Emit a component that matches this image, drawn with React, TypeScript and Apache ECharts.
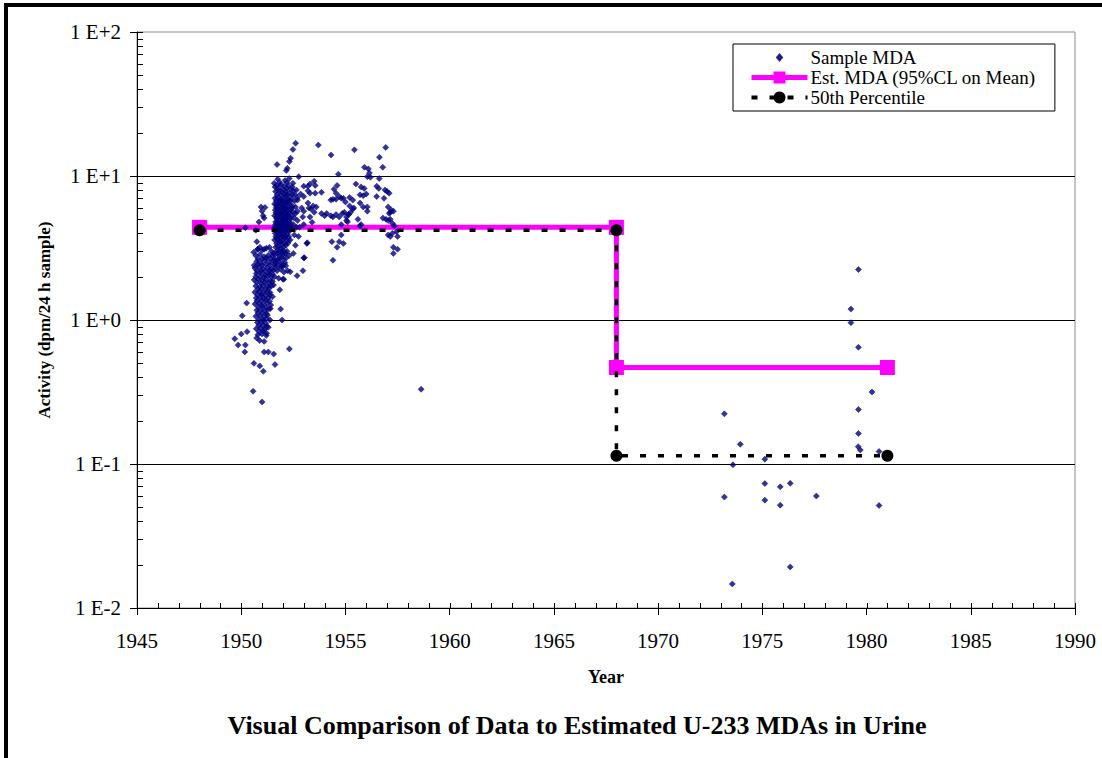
import React, { useEffect, useRef } from "react";
import * as echarts from "echarts";

const FONT = "'Liberation Serif', 'Times New Roman', serif";

const chartTitle = "Visual Comparison of Data to Estimated U-233 MDAs in Urine";
const xAxisName = "Year";
const yAxisName = "Activity (dpm/24 h sample)";
const seriesNames = ["Sample MDA", "Est. MDA (95%CL on Mean)", "50th Percentile"];
const yTickLabels = ["1 E-2", "1 E-1", "1 E+0", "1 E+1", "1 E+2"];
const xMin = 1945;
const xMax = 1990;
const xInterval = 5;
const yMin = 0.01;
const yMax = 100;

// Est. MDA (95% CL on mean) step line
const estMDA: [number, number][] = [
  [1948, 4.4],
  [1968, 4.4],
  [1968, 0.468],
  [1981, 0.468],
];

// 50th percentile step line
const percentile50: [number, number][] = [
  [1948, 4.2],
  [1968, 4.2],
  [1968, 0.114],
  [1981, 0.114],
];

// sample MDAs: sparse early / low points
const sampleEarly: [number, number][] = [
  [1949.69, 0.74], [1949.85, 0.67], [1950.0, 0.8], [1950.05, 1.07], [1950.26, 1.31], [1950.28, 0.83],
  [1950.2, 0.67], [1950.17, 0.6], [1950.61, 0.5], [1950.89, 0.48], [1951.06, 0.44], [1951.62, 0.49],
  [1951.1, 0.6], [1951.3, 0.6], [1951.56, 0.58], [1952.31, 0.63], [1950.57, 0.32], [1951.0, 0.27],
  [1950.2, 4.37], [1950.7, 4.2], [1950.75, 3.5], [1950.78, 3.1], [1950.95, 6.1], [1951.0, 5.7],
  [1951.05, 5.3], [1951.1, 5.1], [1950.85, 4.8], [1951.14, 6.05], [1951.96, 1.0], [1951.89, 1.19],
  [1951.85, 1.62], [1951.93, 2.37], [1952.04, 1.92], [1952.68, 2.03], [1952.35, 2.16], [1952.96, 2.2],
  [1958.63, 0.33],
];

// sample MDAs: dense 1950.6-1951.6 column
const sampleColumn1951: [number, number][] = [
  [1950.8, 3.1], [1951.0, 3.05], [1951.2, 3.15], [1951.45, 3.0],
  [1950.7, 2.8], [1950.9, 2.85], [1951.1, 2.75], [1951.3, 2.82], [1951.5, 2.78],
  [1950.75, 2.55], [1950.95, 2.5], [1951.15, 2.6], [1951.35, 2.52], [1951.55, 2.58],
  [1950.65, 2.3], [1950.85, 2.33], [1951.05, 2.27], [1951.25, 2.31], [1951.45, 2.25], [1951.62, 2.35],
  [1950.72, 2.1], [1950.92, 2.12], [1951.12, 2.06], [1951.32, 2.1], [1951.5, 2.08],
  [1950.62, 1.9], [1950.82, 1.92], [1951.0, 1.88], [1951.2, 1.91], [1951.4, 1.87],
  [1950.7, 1.72], [1950.9, 1.7], [1951.08, 1.74], [1951.28, 1.71], [1951.45, 1.73],
  [1950.65, 1.56], [1950.85, 1.58], [1951.02, 1.54], [1951.22, 1.57], [1951.38, 1.55],
  [1950.72, 1.42], [1950.92, 1.44], [1951.1, 1.41], [1951.3, 1.43],
  [1950.66, 1.29], [1950.86, 1.3], [1951.04, 1.28], [1951.24, 1.31], [1951.42, 1.27],
  [1950.75, 1.17], [1950.95, 1.18], [1951.14, 1.16], [1951.32, 1.19],
  [1950.7, 1.06], [1950.9, 1.07], [1951.08, 1.05], [1951.26, 1.08],
  [1950.78, 0.96], [1950.98, 0.97], [1951.18, 0.95],
  [1950.72, 0.87], [1950.92, 0.88], [1951.12, 0.86], [1951.3, 0.89],
  [1950.8, 0.79], [1951.0, 0.8], [1951.2, 0.78],
  [1950.88, 0.72], [1951.1, 0.71],
  [1950.74, 0.75], [1951.38, 1.0], [1951.22, 0.81], [1951.6, 2.0], [1951.55, 1.75], [1951.5, 1.45],
  [1950.6, 2.95], [1950.9, 3.2], [1951.1, 3.1], [1951.35, 3.2], [1951.55, 2.9],
  [1950.8, 2.65], [1951.0, 2.65], [1951.2, 2.7], [1951.4, 2.68], [1951.6, 2.62],
  [1950.62, 2.4], [1950.8, 2.43], [1951.0, 2.4], [1951.18, 2.44], [1951.38, 2.4], [1951.58, 2.45],
  [1950.75, 2.2], [1950.95, 2.2], [1951.15, 2.18], [1951.35, 2.2], [1951.55, 2.22],
  [1950.7, 2.0], [1950.9, 2.0], [1951.08, 1.98], [1951.28, 2.02], [1951.45, 2.0],
  [1950.75, 1.82], [1950.95, 1.8], [1951.12, 1.83], [1951.32, 1.8], [1951.5, 1.85],
  [1950.8, 1.64], [1950.98, 1.65], [1951.16, 1.63], [1951.34, 1.66],
  [1950.78, 1.49], [1950.98, 1.5], [1951.18, 1.48], [1951.38, 1.5],
  [1950.76, 1.36], [1950.96, 1.36], [1951.16, 1.37], [1951.36, 1.35],
  [1950.82, 1.23], [1951.02, 1.24], [1951.2, 1.22], [1951.4, 1.2],
  [1950.8, 1.12], [1951.0, 1.12], [1951.2, 1.11],
  [1950.84, 1.01], [1951.04, 1.0], [1951.22, 1.02],
  [1950.84, 0.92], [1951.04, 0.92], [1951.22, 0.9],
  [1950.86, 0.83], [1951.06, 0.84],
];

// sample MDAs: dense 1951.6-1952.8 column
const sampleColumn1952: [number, number][] = [
  [1951.75, 9.5], [1952.1, 9.3], [1952.3, 9.6],
  [1951.7, 8.6], [1951.9, 8.7], [1952.05, 8.5], [1952.25, 8.6], [1952.45, 8.4],
  [1951.65, 7.8], [1951.8, 7.9], [1951.95, 7.7], [1952.15, 7.8], [1952.3, 7.6], [1952.5, 7.9],
  [1951.62, 7.0], [1951.75, 7.1], [1951.88, 6.9], [1952.0, 7.0], [1952.12, 7.2], [1952.25, 6.9], [1952.4, 7.0],
  [1951.6, 6.4], [1951.7, 6.3], [1951.82, 6.5], [1951.95, 6.4], [1952.05, 6.3], [1952.18, 6.5], [1952.3, 6.4], [1952.45, 6.2],
  [1951.63, 5.8], [1951.74, 5.9], [1951.86, 5.7], [1951.98, 5.8], [1952.1, 5.9], [1952.22, 5.7], [1952.35, 5.8],
  [1951.6, 5.3], [1951.7, 5.2], [1951.8, 5.4], [1951.92, 5.3], [1952.02, 5.2], [1952.14, 5.35], [1952.26, 5.25], [1952.4, 5.3],
  [1951.65, 4.8], [1951.76, 4.85], [1951.88, 4.75], [1952.0, 4.8], [1952.08, 4.9], [1952.2, 4.75], [1952.32, 4.8],
  [1951.6, 4.4], [1951.7, 4.45], [1951.82, 4.35], [1951.94, 4.4], [1952.05, 4.5], [1952.16, 4.35], [1952.28, 4.4], [1952.42, 4.3],
  [1951.63, 4.0], [1951.74, 4.05], [1951.86, 3.95], [1951.98, 4.0], [1952.1, 4.1], [1952.22, 3.95],
  [1951.6, 3.6], [1951.72, 3.65], [1951.84, 3.55], [1951.96, 3.6], [1952.08, 3.7], [1952.2, 3.55], [1952.35, 3.6],
  [1951.65, 3.2], [1951.78, 3.25], [1951.9, 3.15], [1952.02, 3.2], [1952.15, 3.3],
  [1951.62, 2.85], [1951.75, 2.9], [1951.88, 2.8], [1952.0, 2.85], [1952.12, 2.9], [1952.3, 2.8],
  [1951.68, 2.5], [1951.8, 2.55], [1951.95, 2.45], [1952.1, 2.5],
  [1951.72, 2.2], [1951.9, 2.25], [1952.05, 2.15], [1952.22, 2.2],
  [1951.8, 1.95], [1952.0, 1.92],
  [1952.61, 16.9], [1952.48, 15.3], [1952.37, 13.3], [1952.31, 12.6], [1951.72, 12.0], [1952.21, 11.3],
  [1952.16, 10.9], [1952.76, 9.9], [1951.62, 8.4], [1951.58, 8.9],
  [1951.85, 9.0], [1952.2, 9.0], [1951.78, 8.2], [1952.0, 8.1], [1952.18, 8.2], [1952.38, 8.1],
  [1951.72, 7.4], [1951.9, 7.4], [1952.08, 7.5], [1952.22, 7.35], [1952.45, 7.4],
  [1951.68, 6.7], [1951.82, 6.7], [1951.94, 6.75], [1952.06, 6.65], [1952.2, 6.7], [1952.36, 6.7],
  [1951.68, 6.05], [1951.8, 6.1], [1951.92, 6.05], [1952.04, 6.1], [1952.16, 6.0], [1952.28, 6.1], [1952.42, 6.0],
  [1951.66, 5.55], [1951.76, 5.5], [1951.88, 5.55], [1952.0, 5.5], [1952.08, 5.55], [1952.2, 5.45], [1952.32, 5.55],
  [1951.7, 5.05], [1951.82, 5.0], [1951.94, 5.05], [1952.04, 5.0], [1952.14, 5.05], [1952.26, 5.0], [1952.38, 5.05],
  [1951.64, 4.6], [1951.76, 4.62], [1951.88, 4.58], [1952.0, 4.6], [1952.12, 4.62], [1952.24, 4.58], [1952.36, 4.6],
  [1951.68, 4.2], [1951.8, 4.2], [1951.92, 4.18], [1952.02, 4.22], [1952.14, 4.2], [1952.26, 4.18],
  [1951.66, 3.8], [1951.78, 3.82], [1951.9, 3.78], [1952.02, 3.8], [1952.14, 3.82], [1952.28, 3.78],
  [1951.7, 3.4], [1951.82, 3.42], [1951.96, 3.38], [1952.08, 3.4], [1952.24, 3.42],
  [1951.7, 3.0], [1951.82, 3.02], [1951.94, 2.98], [1952.06, 3.0], [1952.2, 3.0],
  [1951.74, 2.65], [1951.86, 2.68], [1952.02, 2.65], [1952.16, 2.7],
  [1951.76, 2.35], [1951.98, 2.35], [1952.14, 2.38],
  [1952.55, 5.1], [1952.6, 6.1], [1952.7, 7.1], [1952.5, 4.6], [1952.55, 3.9], [1952.65, 4.4],
  [1952.5, 5.6], [1952.58, 7.4], [1952.48, 8.9], [1952.7, 5.7],
];

// sample MDAs: spread 1952.5-1957.6
const sampleSpread: [number, number][] = [
  [1953.7, 16.4], [1954.31, 14.0], [1955.43, 15.2], [1956.93, 15.8], [1956.63, 13.5], [1956.79, 11.5],
  [1955.91, 11.5], [1956.1, 11.2], [1956.15, 10.5], [1956.05, 9.9], [1956.2, 9.8], [1954.66, 10.3], [1956.62, 9.6],
  [1953.5, 9.2], [1953.3, 8.8], [1953.0, 8.5], [1953.55, 8.6],
  [1955.5, 8.8], [1955.75, 8.4], [1955.9, 8.2], [1956.5, 8.5], [1956.6, 8.2], [1956.9, 8.0], [1957.0, 7.8], [1957.1, 7.6],
  [1954.6, 8.6], [1954.45, 8.1], [1954.55, 7.6], [1954.7, 7.2], [1954.8, 7.0], [1954.4, 6.9], [1955.0, 6.6],
  [1955.2, 6.2], [1955.35, 5.9], [1954.95, 5.6], [1955.15, 5.4],
  [1953.3, 7.6], [1953.55, 7.6], [1953.85, 7.7], [1953.0, 7.2], [1952.7, 6.8],
  [1955.7, 7.4], [1956.0, 7.5], [1955.85, 7.3], [1956.5, 7.2], [1956.85, 7.0],
  [1953.2, 6.5], [1953.45, 6.2], [1953.6, 6.1], [1953.35, 5.9], [1953.25, 6.0],
  [1954.3, 6.8], [1954.55, 6.9], [1954.9, 7.0], [1955.2, 7.1], [1955.35, 6.8],
  [1955.7, 6.5], [1955.85, 6.1], [1956.05, 6.1], [1956.05, 5.7],
  [1953.0, 5.7], [1953.3, 5.2], [1953.5, 5.6], [1953.85, 5.5],
  [1954.0, 5.3], [1954.1, 5.5], [1954.3, 5.3], [1954.4, 5.2], [1954.55, 5.4], [1954.7, 5.2], [1954.85, 5.5],
  [1955.05, 5.2], [1955.15, 5.4], [1955.25, 5.6], [1955.4, 6.0],
  [1955.05, 4.9], [1955.6, 5.0], [1955.75, 4.6], [1955.7, 4.5], [1956.8, 5.1],
  [1957.05, 6.1], [1957.2, 5.8], [1957.15, 5.6], [1957.3, 5.7],
  [1957.1, 5.5], [1957.15, 5.0], [1957.05, 4.9], [1957.25, 4.7], [1956.95, 5.0],
  [1957.35, 4.5], [1957.45, 4.1], [1957.5, 3.8],
  [1953.4, 4.77], [1953.0, 4.6], [1954.8, 4.6], [1955.1, 4.8],
  [1957.05, 3.9], [1957.15, 3.8], [1957.25, 4.0],
  [1953.15, 3.4], [1954.35, 3.5], [1954.7, 3.5], [1954.8, 3.9], [1954.9, 3.4], [1954.6, 3.2],
  [1954.4, 2.6], [1953.0, 2.7], [1953.17, 3.44], [1953.03, 2.71],
  [1957.3, 3.2], [1957.5, 3.1], [1957.3, 2.9],
  [1952.9, 6.0], [1952.95, 5.2], [1952.3, 4.4], [1952.35, 4.2], [1952.8, 4.4], [1953.2, 8.5], [1953.2, 7.9],
  [1952.6, 5.5], [1952.7, 4.9], [1952.55, 6.7], [1952.65, 8.0], [1952.85, 7.5], [1952.75, 3.8], [1952.6, 3.3], [1952.5, 2.9],
];

// sample MDAs: 1973-1981
const sampleLate: [number, number][] = [
  [1979.61, 2.24], [1979.25, 1.19], [1979.25, 0.958], [1979.61, 0.646], [1980.26, 0.316], [1973.18, 0.223],
  [1979.61, 0.239], [1979.61, 0.163], [1973.94, 0.137], [1979.6, 0.132], [1979.7, 0.125], [1980.6, 0.122],
  [1975.12, 0.108], [1973.59, 0.0987], [1975.12, 0.0731], [1975.86, 0.0694], [1976.34, 0.0734],
  [1973.18, 0.0589], [1975.12, 0.0561], [1975.86, 0.0518], [1977.59, 0.0599], [1980.6, 0.0515],
  [1976.34, 0.0193], [1973.56, 0.0147],
];

const sampleMDA = [...sampleEarly, ...sampleColumn1951, ...sampleColumn1952, ...sampleSpread, ...sampleLate];

function buildTickData(): number[][] {
  const ticks: number[][] = [];
  for (let yr = xMin; yr <= xMax; yr++) ticks.push([yr, yMin, 0]);
  for (let e = Math.log10(yMin); e <= Math.log10(yMax); e++) {
    ticks.push([xMin, Math.pow(10, e), 1]);
    if (e < Math.log10(yMax)) {
      for (let m = 2; m <= 9; m++) ticks.push([xMin, m * Math.pow(10, e), 1]);
    }
  }
  return ticks;
}

function yLabel(value: number): string {
  const e = Math.round(Math.log10(value));
  return yTickLabels[e - Math.round(Math.log10(yMin))] ?? "";
}

export default function App() {
  const ref = useRef<HTMLDivElement>(null);
  useEffect(() => {
    if (!ref.current) return;
    const chart = echarts.init(ref.current, null, { renderer: "svg" });
    const option: any = {
      animation: false,
      backgroundColor: "#ffffff",
      grid: {
        left: 137,
        right: 27,
        top: 32,
        bottom: 150,
        show: true,
        borderColor: "#8c8c8c",
        borderWidth: 1,
        backgroundColor: "transparent",
      },
      legend: {
        orient: "vertical",
        left: 733,
        top: 44,
        padding: [4, 18, 4, 16],
        itemWidth: 56,
        itemHeight: 15,
        itemGap: 1,
        backgroundColor: "#ffffff",
        borderColor: "#000000",
        borderWidth: 1,
        borderRadius: 0,
        textStyle: { fontFamily: FONT, fontSize: 19, lineHeight: 19, color: "#000", padding: [0, 0, 0, -2] },
        data: [
          { name: seriesNames[0], icon: "path://M0,0M56,15M28,4.5L30.5,7.5L28,10.5L25.5,7.5Z" },
          { name: seriesNames[1], lineStyle: { width: 5 } },
          { name: seriesNames[2], lineStyle: { width: 4 } },
        ],
      },
      xAxis: {
        type: "value",
        min: xMin,
        max: xMax,
        interval: xInterval,
        name: xAxisName,
        nameLocation: "middle",
        nameGap: 60,
        nameTextStyle: { fontFamily: FONT, fontSize: 18, fontWeight: "bold", color: "#000" },
        axisLine: { show: true, onZero: false, lineStyle: { color: "#000", width: 1 } },
        axisTick: { show: true, inside: false, length: 7, lineStyle: { color: "#000" } },
        axisLabel: { fontFamily: FONT, fontSize: 21, color: "#000", margin: 22, formatter: (v: number) => String(v) },
        splitLine: { show: false },
      },
      yAxis: {
        type: "log",
        logBase: 10,
        min: yMin,
        max: yMax,
        splitNumber: 4,
        name: yAxisName,
        nameLocation: "middle",
        nameGap: 84,
        nameTextStyle: { fontFamily: FONT, fontSize: 17, fontWeight: "bold", color: "#000" },
        axisLine: { show: true, lineStyle: { color: "#000", width: 1 } },
        axisTick: { show: true, inside: false, length: 7, lineStyle: { color: "#000" } },
        axisLabel: { fontFamily: FONT, fontSize: 21, color: "#000", margin: 16, formatter: yLabel },
        splitLine: { show: true, showMinLine: false, showMaxLine: false, lineStyle: { color: "#000", width: 1 } },
        minorTick: { show: false },
      },
      series: [
        {
          name: "ticks",
          type: "custom",
          silent: true,
          clip: false,
          z: 6,
          encode: { x: 0, y: 1 },
          data: buildTickData(),
          renderItem: (params: any, api: any) => {
            const p = api.coord([api.value(0), api.value(1)]);
            const kind = api.value(2);
            if (kind === 0) {
              return {
                type: "line",
                shape: { x1: Math.round(p[0]) + 0.5, y1: p[1], x2: Math.round(p[0]) + 0.5, y2: p[1] - 5 },
                style: { stroke: "#000", lineWidth: 1 },
              };
            }
            return {
              type: "line",
              shape: { x1: p[0], y1: Math.round(p[1]) + 0.5, x2: p[0] + 6, y2: Math.round(p[1]) + 0.5 },
              style: { stroke: "#000", lineWidth: 1 },
            };
          },
        },
        {
          name: seriesNames[1],
          type: "line",
          z: 3,
          data: estMDA,
          symbol: "rect",
          symbolSize: 15,
          showAllSymbol: true,
          lineStyle: { color: "#ff00ff", width: 5 },
          itemStyle: { color: "#ff00ff" },
        },
        {
          name: seriesNames[0],
          type: "scatter",
          z: 4,
          data: sampleMDA,
          symbol: "diamond",
          symbolSize: 6,
          itemStyle: { color: "#000080", borderColor: "#000080", borderWidth: 0.6 },
        },
        {
          name: seriesNames[2],
          type: "line",
          z: 5,
          data: percentile50,
          symbol: "circle",
          symbolSize: 12,
          showAllSymbol: true,
          lineStyle: { color: "#000", width: 3.5, type: [6, 12] },
          itemStyle: { color: "#000" },
        },
      ],
      graphic: [
        { type: "rect", left: 4, top: 3, shape: { width: 1098, height: 4 }, style: { fill: "#000" }, z: 10 },
        { type: "rect", left: 4, top: 3, shape: { width: 4, height: 755 }, style: { fill: "#000" }, z: 10 },
        {
          type: "text",
          x: 577,
          y: 725,
          style: {
            text: chartTitle,
            font: `bold 26px ${FONT}`,
            fill: "#000",
            align: "center",
            verticalAlign: "middle",
          },
          z: 10,
        },
      ],
    };
    chart.setOption(option);
    return () => chart.dispose();
  }, []);
  return (
    <div
      ref={ref}
      style={{ position: "absolute", left: 0, top: 0, width: 1102, height: 758, background: "#fff" }}
    />
  );
}
